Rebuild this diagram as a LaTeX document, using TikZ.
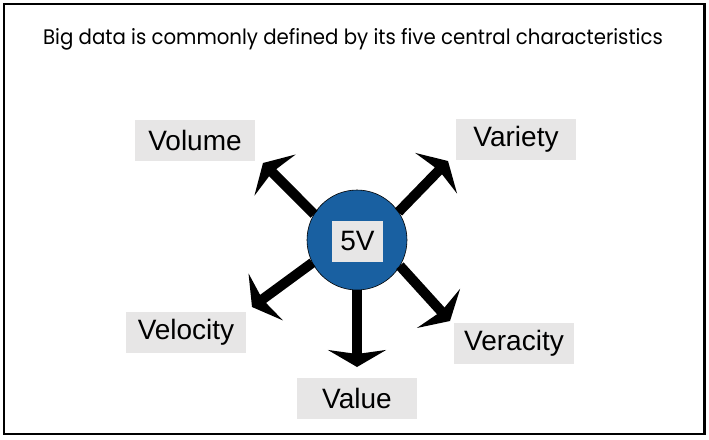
\documentclass[tikz,border=0pt]{standalone}
\usepackage{fontspec}
\setmainfont{Liberation Sans}
\newfontfamily\titlefont[FakeStretch=0.94]{Poppins}
\usetikzlibrary{arrows.meta,positioning}
\definecolor{coreblue}{RGB}{25,96,161}
\definecolor{boxgray}{RGB}{231,230,230}

\begin{document}
\begin{tikzpicture}[x=1pt, y=-1pt, outer sep=0pt]
\tikzstyle{vbox}=[fill=boxgray, text=black, minimum width=120pt, minimum height=41pt,
    inner sep=0pt, text centered, font=\fontsize{28}{31}\selectfont]
\tikzstyle{spoke}=[line width=10pt, -{Stealth[length=17pt, width=58pt, inset=4pt]}]
    \useasboundingbox (0,0) rectangle (709,439);
    \draw[line width=2.5pt] (4,4) rectangle (704.5,434);
    \node (title) [anchor=base] at (353,44) {\titlefont\fontsize{21}{24}\selectfont Big data is commonly defined by its five central characteristics};
    % tips of the spokes
    \coordinate (tvolume) at (263,163);
    \coordinate (tvariety) at (448,161);
    \coordinate (tvelocity) at (252,307);
    \coordinate (tvalue) at (357,367);
    \coordinate (tveracity) at (450,321);
    \node (core) [circle, draw=black, line width=0.6pt, fill=coreblue, minimum size=100pt, inner sep=0pt] at (357,240) {};
    \draw[spoke] (core.149) -- (tvolume);
    \draw[spoke] (core.34) -- (tvariety);
    \draw[spoke] (core.207) -- (tvelocity);
    \draw[spoke] (core.270) -- (tvalue);
    \draw[spoke] (core.329) -- (tveracity);
    \node (fivev) [vbox, minimum width=51pt] at (357.5,241.5) {5V};
    \node (volume) [vbox] at (195,140) {Volume};
    \node (variety) [vbox] at (516,139.5) {Variety};
    \node (velocity) [vbox] at (186,332.5) {Velocity};
    \node (veracity) [vbox] at (514,343) {Veracity};
    \node (value) [vbox] at (357,398) {Value};
\end{tikzpicture}
\end{document}
